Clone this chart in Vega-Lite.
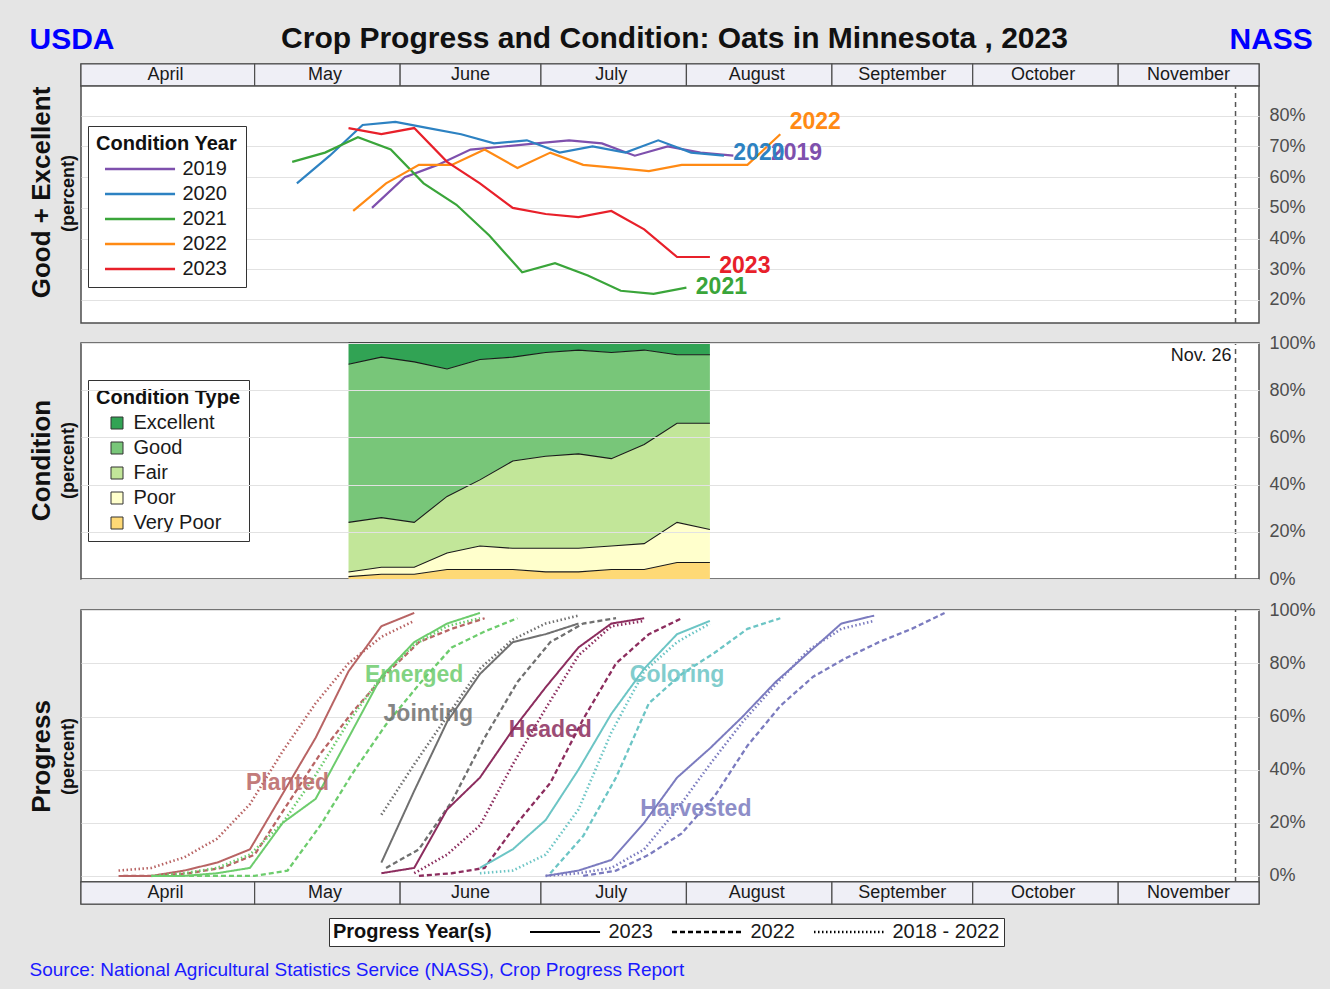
{
  "$schema": "https://vega.github.io/schema/vega-lite/v6.json",
  "background": "#e5e5e5",
  "padding": {"left": 27, "top": 22, "right": 16, "bottom": 43},
  "config": {
    "font": "Liberation Sans",
    "view": {"stroke": "#4d4d4d", "strokeWidth": 1.5, "fill": "white"},
    "axis": {"labelFontSize": 18, "labelColor": "#4d4d4d", "gridColor": "#e2e2e2", "gridWidth": 1.2, "titleLimit": 1400},
    "legend": {"labelFontSize": 20, "titleFontSize": 20, "titleFontWeight": "bold", "labelColor": "#1a1a1a", "titleColor": "#111111", "fillColor": "white", "strokeColor": "#333333", "padding": 8, "rowPadding": 5, "titlePadding": 5, "labelLimit": 400, "titleLimit": 400}
  },
  "datasets": {
    "months": [
      {"month": "April", "start": "2023-03-25", "end": "2023-05-01", "mid": "2023-04-12"},
      {"month": "May", "start": "2023-05-01", "end": "2023-06-01", "mid": "2023-05-16"},
      {"month": "June", "start": "2023-06-01", "end": "2023-07-01", "mid": "2023-06-16"},
      {"month": "July", "start": "2023-07-01", "end": "2023-08-01", "mid": "2023-07-16"},
      {"month": "August", "start": "2023-08-01", "end": "2023-09-01", "mid": "2023-08-16"},
      {"month": "September", "start": "2023-09-01", "end": "2023-10-01", "mid": "2023-09-16"},
      {"month": "October", "start": "2023-10-01", "end": "2023-11-01", "mid": "2023-10-16"},
      {"month": "November", "start": "2023-11-01", "end": "2023-12-01", "mid": "2023-11-16"}
    ],
    "marker": [{"date": "2023-11-26", "label": "Nov. 26"}],
    "condYears": [
      {"year": "2019", "date": "2023-05-26", "pct": 50}, {"year": "2019", "date": "2023-06-02", "pct": 60}, {"year": "2019", "date": "2023-06-09", "pct": 64}, {"year": "2019", "date": "2023-06-16", "pct": 69}, {"year": "2019", "date": "2023-06-23", "pct": 70}, {"year": "2019", "date": "2023-06-30", "pct": 71}, {"year": "2019", "date": "2023-07-07", "pct": 72}, {"year": "2019", "date": "2023-07-14", "pct": 71}, {"year": "2019", "date": "2023-07-21", "pct": 67}, {"year": "2019", "date": "2023-07-28", "pct": 70}, {"year": "2019", "date": "2023-08-04", "pct": 68}, {"year": "2019", "date": "2023-08-11", "pct": 67},
      {"year": "2020", "date": "2023-05-10", "pct": 58}, {"year": "2020", "date": "2023-05-17", "pct": 67}, {"year": "2020", "date": "2023-05-24", "pct": 77}, {"year": "2020", "date": "2023-05-31", "pct": 78}, {"year": "2020", "date": "2023-06-07", "pct": 76}, {"year": "2020", "date": "2023-06-14", "pct": 74}, {"year": "2020", "date": "2023-06-21", "pct": 71}, {"year": "2020", "date": "2023-06-28", "pct": 72}, {"year": "2020", "date": "2023-07-05", "pct": 68}, {"year": "2020", "date": "2023-07-12", "pct": 70}, {"year": "2020", "date": "2023-07-19", "pct": 68}, {"year": "2020", "date": "2023-07-26", "pct": 72}, {"year": "2020", "date": "2023-08-02", "pct": 68}, {"year": "2020", "date": "2023-08-09", "pct": 67},
      {"year": "2021", "date": "2023-05-09", "pct": 65}, {"year": "2021", "date": "2023-05-16", "pct": 68}, {"year": "2021", "date": "2023-05-23", "pct": 73}, {"year": "2021", "date": "2023-05-30", "pct": 69}, {"year": "2021", "date": "2023-06-06", "pct": 58}, {"year": "2021", "date": "2023-06-13", "pct": 51}, {"year": "2021", "date": "2023-06-20", "pct": 41}, {"year": "2021", "date": "2023-06-27", "pct": 29}, {"year": "2021", "date": "2023-07-04", "pct": 32}, {"year": "2021", "date": "2023-07-11", "pct": 28}, {"year": "2021", "date": "2023-07-18", "pct": 23}, {"year": "2021", "date": "2023-07-25", "pct": 22}, {"year": "2021", "date": "2023-08-01", "pct": 24},
      {"year": "2022", "date": "2023-05-22", "pct": 49}, {"year": "2022", "date": "2023-05-29", "pct": 58}, {"year": "2022", "date": "2023-06-05", "pct": 64}, {"year": "2022", "date": "2023-06-12", "pct": 64}, {"year": "2022", "date": "2023-06-19", "pct": 69}, {"year": "2022", "date": "2023-06-26", "pct": 63}, {"year": "2022", "date": "2023-07-03", "pct": 68}, {"year": "2022", "date": "2023-07-10", "pct": 64}, {"year": "2022", "date": "2023-07-17", "pct": 63}, {"year": "2022", "date": "2023-07-24", "pct": 62}, {"year": "2022", "date": "2023-07-31", "pct": 64}, {"year": "2022", "date": "2023-08-07", "pct": 64}, {"year": "2022", "date": "2023-08-14", "pct": 64}, {"year": "2022", "date": "2023-08-21", "pct": 74},
      {"year": "2023", "date": "2023-05-21", "pct": 76}, {"year": "2023", "date": "2023-05-28", "pct": 74}, {"year": "2023", "date": "2023-06-04", "pct": 76}, {"year": "2023", "date": "2023-06-11", "pct": 65}, {"year": "2023", "date": "2023-06-18", "pct": 58}, {"year": "2023", "date": "2023-06-25", "pct": 50}, {"year": "2023", "date": "2023-07-02", "pct": 48}, {"year": "2023", "date": "2023-07-09", "pct": 47}, {"year": "2023", "date": "2023-07-16", "pct": 49}, {"year": "2023", "date": "2023-07-23", "pct": 43}, {"year": "2023", "date": "2023-07-30", "pct": 34}, {"year": "2023", "date": "2023-08-06", "pct": 34}
    ],
    "condLabels": [
      {"year": "2019", "date": "2023-08-19", "pct": 68},
      {"year": "2020", "date": "2023-08-11", "pct": 68},
      {"year": "2021", "date": "2023-08-03", "pct": 24.3},
      {"year": "2022", "date": "2023-08-23", "pct": 78},
      {"year": "2023", "date": "2023-08-08", "pct": 31}
    ],
    "condType": [
      {"date": "2023-05-21", "cond": "Very Poor", "lo": 0, "hi": 1}, {"date": "2023-05-21", "cond": "Poor", "lo": 1, "hi": 3}, {"date": "2023-05-21", "cond": "Fair", "lo": 3, "hi": 24}, {"date": "2023-05-21", "cond": "Good", "lo": 24, "hi": 91}, {"date": "2023-05-21", "cond": "Excellent", "lo": 91, "hi": 100},
      {"date": "2023-05-28", "cond": "Very Poor", "lo": 0, "hi": 2}, {"date": "2023-05-28", "cond": "Poor", "lo": 2, "hi": 5}, {"date": "2023-05-28", "cond": "Fair", "lo": 5, "hi": 26}, {"date": "2023-05-28", "cond": "Good", "lo": 26, "hi": 94}, {"date": "2023-05-28", "cond": "Excellent", "lo": 94, "hi": 100},
      {"date": "2023-06-04", "cond": "Very Poor", "lo": 0, "hi": 2}, {"date": "2023-06-04", "cond": "Poor", "lo": 2, "hi": 5}, {"date": "2023-06-04", "cond": "Fair", "lo": 5, "hi": 24}, {"date": "2023-06-04", "cond": "Good", "lo": 24, "hi": 92}, {"date": "2023-06-04", "cond": "Excellent", "lo": 92, "hi": 100},
      {"date": "2023-06-11", "cond": "Very Poor", "lo": 0, "hi": 4}, {"date": "2023-06-11", "cond": "Poor", "lo": 4, "hi": 11}, {"date": "2023-06-11", "cond": "Fair", "lo": 11, "hi": 35}, {"date": "2023-06-11", "cond": "Good", "lo": 35, "hi": 89}, {"date": "2023-06-11", "cond": "Excellent", "lo": 89, "hi": 100},
      {"date": "2023-06-18", "cond": "Very Poor", "lo": 0, "hi": 4}, {"date": "2023-06-18", "cond": "Poor", "lo": 4, "hi": 14}, {"date": "2023-06-18", "cond": "Fair", "lo": 14, "hi": 42}, {"date": "2023-06-18", "cond": "Good", "lo": 42, "hi": 93}, {"date": "2023-06-18", "cond": "Excellent", "lo": 93, "hi": 100},
      {"date": "2023-06-25", "cond": "Very Poor", "lo": 0, "hi": 4}, {"date": "2023-06-25", "cond": "Poor", "lo": 4, "hi": 13}, {"date": "2023-06-25", "cond": "Fair", "lo": 13, "hi": 50}, {"date": "2023-06-25", "cond": "Good", "lo": 50, "hi": 94}, {"date": "2023-06-25", "cond": "Excellent", "lo": 94, "hi": 100},
      {"date": "2023-07-02", "cond": "Very Poor", "lo": 0, "hi": 3}, {"date": "2023-07-02", "cond": "Poor", "lo": 3, "hi": 13}, {"date": "2023-07-02", "cond": "Fair", "lo": 13, "hi": 52}, {"date": "2023-07-02", "cond": "Good", "lo": 52, "hi": 96}, {"date": "2023-07-02", "cond": "Excellent", "lo": 96, "hi": 100},
      {"date": "2023-07-09", "cond": "Very Poor", "lo": 0, "hi": 3}, {"date": "2023-07-09", "cond": "Poor", "lo": 3, "hi": 13}, {"date": "2023-07-09", "cond": "Fair", "lo": 13, "hi": 53}, {"date": "2023-07-09", "cond": "Good", "lo": 53, "hi": 97}, {"date": "2023-07-09", "cond": "Excellent", "lo": 97, "hi": 100},
      {"date": "2023-07-16", "cond": "Very Poor", "lo": 0, "hi": 4}, {"date": "2023-07-16", "cond": "Poor", "lo": 4, "hi": 14}, {"date": "2023-07-16", "cond": "Fair", "lo": 14, "hi": 51}, {"date": "2023-07-16", "cond": "Good", "lo": 51, "hi": 96}, {"date": "2023-07-16", "cond": "Excellent", "lo": 96, "hi": 100},
      {"date": "2023-07-23", "cond": "Very Poor", "lo": 0, "hi": 4}, {"date": "2023-07-23", "cond": "Poor", "lo": 4, "hi": 15}, {"date": "2023-07-23", "cond": "Fair", "lo": 15, "hi": 57}, {"date": "2023-07-23", "cond": "Good", "lo": 57, "hi": 97}, {"date": "2023-07-23", "cond": "Excellent", "lo": 97, "hi": 100},
      {"date": "2023-07-30", "cond": "Very Poor", "lo": 0, "hi": 7}, {"date": "2023-07-30", "cond": "Poor", "lo": 7, "hi": 24}, {"date": "2023-07-30", "cond": "Fair", "lo": 24, "hi": 66}, {"date": "2023-07-30", "cond": "Good", "lo": 66, "hi": 95}, {"date": "2023-07-30", "cond": "Excellent", "lo": 95, "hi": 100},
      {"date": "2023-08-06", "cond": "Very Poor", "lo": 0, "hi": 7}, {"date": "2023-08-06", "cond": "Poor", "lo": 7, "hi": 21}, {"date": "2023-08-06", "cond": "Fair", "lo": 21, "hi": 66}, {"date": "2023-08-06", "cond": "Good", "lo": 66, "hi": 95}, {"date": "2023-08-06", "cond": "Excellent", "lo": 95, "hi": 100}
    ],
    "progress": [
      {"stage": "Planted", "series": "2023", "date": "2023-04-02", "pct": 0}, {"stage": "Planted", "series": "2023", "date": "2023-04-09", "pct": 0}, {"stage": "Planted", "series": "2023", "date": "2023-04-16", "pct": 2}, {"stage": "Planted", "series": "2023", "date": "2023-04-23", "pct": 5}, {"stage": "Planted", "series": "2023", "date": "2023-04-30", "pct": 10}, {"stage": "Planted", "series": "2023", "date": "2023-05-07", "pct": 31}, {"stage": "Planted", "series": "2023", "date": "2023-05-14", "pct": 52}, {"stage": "Planted", "series": "2023", "date": "2023-05-21", "pct": 77}, {"stage": "Planted", "series": "2023", "date": "2023-05-28", "pct": 94}, {"stage": "Planted", "series": "2023", "date": "2023-06-04", "pct": 99},
      {"stage": "Planted", "series": "2022", "date": "2023-04-03", "pct": 0}, {"stage": "Planted", "series": "2022", "date": "2023-04-10", "pct": 0}, {"stage": "Planted", "series": "2022", "date": "2023-04-17", "pct": 1}, {"stage": "Planted", "series": "2022", "date": "2023-04-24", "pct": 3}, {"stage": "Planted", "series": "2022", "date": "2023-05-01", "pct": 8}, {"stage": "Planted", "series": "2022", "date": "2023-05-08", "pct": 27}, {"stage": "Planted", "series": "2022", "date": "2023-05-15", "pct": 46}, {"stage": "Planted", "series": "2022", "date": "2023-05-22", "pct": 62}, {"stage": "Planted", "series": "2022", "date": "2023-05-29", "pct": 76}, {"stage": "Planted", "series": "2022", "date": "2023-06-05", "pct": 88}, {"stage": "Planted", "series": "2022", "date": "2023-06-12", "pct": 93}, {"stage": "Planted", "series": "2022", "date": "2023-06-19", "pct": 97},
      {"stage": "Planted", "series": "2018 - 2022", "date": "2023-04-02", "pct": 2}, {"stage": "Planted", "series": "2018 - 2022", "date": "2023-04-09", "pct": 3}, {"stage": "Planted", "series": "2018 - 2022", "date": "2023-04-16", "pct": 7}, {"stage": "Planted", "series": "2018 - 2022", "date": "2023-04-23", "pct": 14}, {"stage": "Planted", "series": "2018 - 2022", "date": "2023-04-30", "pct": 27}, {"stage": "Planted", "series": "2018 - 2022", "date": "2023-05-07", "pct": 47}, {"stage": "Planted", "series": "2018 - 2022", "date": "2023-05-14", "pct": 65}, {"stage": "Planted", "series": "2018 - 2022", "date": "2023-05-21", "pct": 80}, {"stage": "Planted", "series": "2018 - 2022", "date": "2023-05-28", "pct": 90}, {"stage": "Planted", "series": "2018 - 2022", "date": "2023-06-04", "pct": 96},
      {"stage": "Emerged", "series": "2023", "date": "2023-04-09", "pct": 0}, {"stage": "Emerged", "series": "2023", "date": "2023-04-16", "pct": 0}, {"stage": "Emerged", "series": "2023", "date": "2023-04-23", "pct": 1}, {"stage": "Emerged", "series": "2023", "date": "2023-04-30", "pct": 3}, {"stage": "Emerged", "series": "2023", "date": "2023-05-07", "pct": 20}, {"stage": "Emerged", "series": "2023", "date": "2023-05-14", "pct": 29}, {"stage": "Emerged", "series": "2023", "date": "2023-05-21", "pct": 52}, {"stage": "Emerged", "series": "2023", "date": "2023-05-28", "pct": 75}, {"stage": "Emerged", "series": "2023", "date": "2023-06-04", "pct": 88}, {"stage": "Emerged", "series": "2023", "date": "2023-06-11", "pct": 95}, {"stage": "Emerged", "series": "2023", "date": "2023-06-18", "pct": 99},
      {"stage": "Emerged", "series": "2022", "date": "2023-04-17", "pct": 0}, {"stage": "Emerged", "series": "2022", "date": "2023-04-24", "pct": 0}, {"stage": "Emerged", "series": "2022", "date": "2023-05-01", "pct": 0}, {"stage": "Emerged", "series": "2022", "date": "2023-05-08", "pct": 2}, {"stage": "Emerged", "series": "2022", "date": "2023-05-15", "pct": 19}, {"stage": "Emerged", "series": "2022", "date": "2023-05-22", "pct": 39}, {"stage": "Emerged", "series": "2022", "date": "2023-05-29", "pct": 57}, {"stage": "Emerged", "series": "2022", "date": "2023-06-05", "pct": 72}, {"stage": "Emerged", "series": "2022", "date": "2023-06-12", "pct": 86}, {"stage": "Emerged", "series": "2022", "date": "2023-06-19", "pct": 92}, {"stage": "Emerged", "series": "2022", "date": "2023-06-26", "pct": 97},
      {"stage": "Emerged", "series": "2018 - 2022", "date": "2023-04-09", "pct": 0}, {"stage": "Emerged", "series": "2018 - 2022", "date": "2023-04-16", "pct": 1}, {"stage": "Emerged", "series": "2018 - 2022", "date": "2023-04-23", "pct": 3}, {"stage": "Emerged", "series": "2018 - 2022", "date": "2023-04-30", "pct": 8}, {"stage": "Emerged", "series": "2018 - 2022", "date": "2023-05-07", "pct": 20}, {"stage": "Emerged", "series": "2018 - 2022", "date": "2023-05-14", "pct": 38}, {"stage": "Emerged", "series": "2018 - 2022", "date": "2023-05-21", "pct": 58}, {"stage": "Emerged", "series": "2018 - 2022", "date": "2023-05-28", "pct": 75}, {"stage": "Emerged", "series": "2018 - 2022", "date": "2023-06-04", "pct": 87}, {"stage": "Emerged", "series": "2018 - 2022", "date": "2023-06-11", "pct": 94}, {"stage": "Emerged", "series": "2018 - 2022", "date": "2023-06-18", "pct": 97},
      {"stage": "Jointing", "series": "2023", "date": "2023-05-28", "pct": 5}, {"stage": "Jointing", "series": "2023", "date": "2023-06-04", "pct": 32}, {"stage": "Jointing", "series": "2023", "date": "2023-06-11", "pct": 58}, {"stage": "Jointing", "series": "2023", "date": "2023-06-18", "pct": 76}, {"stage": "Jointing", "series": "2023", "date": "2023-06-25", "pct": 88}, {"stage": "Jointing", "series": "2023", "date": "2023-07-02", "pct": 91}, {"stage": "Jointing", "series": "2023", "date": "2023-07-09", "pct": 95},
      {"stage": "Jointing", "series": "2022", "date": "2023-05-29", "pct": 3}, {"stage": "Jointing", "series": "2022", "date": "2023-06-05", "pct": 10}, {"stage": "Jointing", "series": "2022", "date": "2023-06-12", "pct": 28}, {"stage": "Jointing", "series": "2022", "date": "2023-06-19", "pct": 52}, {"stage": "Jointing", "series": "2022", "date": "2023-06-26", "pct": 73}, {"stage": "Jointing", "series": "2022", "date": "2023-07-03", "pct": 88}, {"stage": "Jointing", "series": "2022", "date": "2023-07-10", "pct": 95}, {"stage": "Jointing", "series": "2022", "date": "2023-07-17", "pct": 97},
      {"stage": "Jointing", "series": "2018 - 2022", "date": "2023-05-28", "pct": 23}, {"stage": "Jointing", "series": "2018 - 2022", "date": "2023-06-04", "pct": 42}, {"stage": "Jointing", "series": "2018 - 2022", "date": "2023-06-11", "pct": 60}, {"stage": "Jointing", "series": "2018 - 2022", "date": "2023-06-18", "pct": 78}, {"stage": "Jointing", "series": "2018 - 2022", "date": "2023-06-25", "pct": 89}, {"stage": "Jointing", "series": "2018 - 2022", "date": "2023-07-02", "pct": 95}, {"stage": "Jointing", "series": "2018 - 2022", "date": "2023-07-09", "pct": 98},
      {"stage": "Headed", "series": "2023", "date": "2023-05-28", "pct": 1}, {"stage": "Headed", "series": "2023", "date": "2023-06-04", "pct": 3}, {"stage": "Headed", "series": "2023", "date": "2023-06-11", "pct": 25}, {"stage": "Headed", "series": "2023", "date": "2023-06-18", "pct": 37}, {"stage": "Headed", "series": "2023", "date": "2023-06-25", "pct": 55}, {"stage": "Headed", "series": "2023", "date": "2023-07-02", "pct": 71}, {"stage": "Headed", "series": "2023", "date": "2023-07-09", "pct": 86}, {"stage": "Headed", "series": "2023", "date": "2023-07-16", "pct": 95}, {"stage": "Headed", "series": "2023", "date": "2023-07-23", "pct": 97},
      {"stage": "Headed", "series": "2022", "date": "2023-06-05", "pct": 0}, {"stage": "Headed", "series": "2022", "date": "2023-06-12", "pct": 1}, {"stage": "Headed", "series": "2022", "date": "2023-06-19", "pct": 3}, {"stage": "Headed", "series": "2022", "date": "2023-06-26", "pct": 20}, {"stage": "Headed", "series": "2022", "date": "2023-07-03", "pct": 35}, {"stage": "Headed", "series": "2022", "date": "2023-07-10", "pct": 59}, {"stage": "Headed", "series": "2022", "date": "2023-07-17", "pct": 80}, {"stage": "Headed", "series": "2022", "date": "2023-07-24", "pct": 91}, {"stage": "Headed", "series": "2022", "date": "2023-07-31", "pct": 97},
      {"stage": "Headed", "series": "2018 - 2022", "date": "2023-06-04", "pct": 1}, {"stage": "Headed", "series": "2018 - 2022", "date": "2023-06-11", "pct": 8}, {"stage": "Headed", "series": "2018 - 2022", "date": "2023-06-18", "pct": 19}, {"stage": "Headed", "series": "2018 - 2022", "date": "2023-06-25", "pct": 42}, {"stage": "Headed", "series": "2018 - 2022", "date": "2023-07-02", "pct": 63}, {"stage": "Headed", "series": "2018 - 2022", "date": "2023-07-09", "pct": 83}, {"stage": "Headed", "series": "2018 - 2022", "date": "2023-07-16", "pct": 94}, {"stage": "Headed", "series": "2018 - 2022", "date": "2023-07-23", "pct": 96},
      {"stage": "Coloring", "series": "2023", "date": "2023-06-18", "pct": 3}, {"stage": "Coloring", "series": "2023", "date": "2023-06-25", "pct": 10}, {"stage": "Coloring", "series": "2023", "date": "2023-07-02", "pct": 21}, {"stage": "Coloring", "series": "2023", "date": "2023-07-09", "pct": 40}, {"stage": "Coloring", "series": "2023", "date": "2023-07-16", "pct": 61}, {"stage": "Coloring", "series": "2023", "date": "2023-07-23", "pct": 78}, {"stage": "Coloring", "series": "2023", "date": "2023-07-30", "pct": 91}, {"stage": "Coloring", "series": "2023", "date": "2023-08-06", "pct": 96},
      {"stage": "Coloring", "series": "2022", "date": "2023-07-03", "pct": 1}, {"stage": "Coloring", "series": "2022", "date": "2023-07-10", "pct": 15}, {"stage": "Coloring", "series": "2022", "date": "2023-07-17", "pct": 37}, {"stage": "Coloring", "series": "2022", "date": "2023-07-24", "pct": 65}, {"stage": "Coloring", "series": "2022", "date": "2023-07-31", "pct": 76}, {"stage": "Coloring", "series": "2022", "date": "2023-08-07", "pct": 84}, {"stage": "Coloring", "series": "2022", "date": "2023-08-14", "pct": 93}, {"stage": "Coloring", "series": "2022", "date": "2023-08-21", "pct": 97},
      {"stage": "Coloring", "series": "2018 - 2022", "date": "2023-06-18", "pct": 1}, {"stage": "Coloring", "series": "2018 - 2022", "date": "2023-06-25", "pct": 2}, {"stage": "Coloring", "series": "2018 - 2022", "date": "2023-07-02", "pct": 8}, {"stage": "Coloring", "series": "2018 - 2022", "date": "2023-07-09", "pct": 25}, {"stage": "Coloring", "series": "2018 - 2022", "date": "2023-07-16", "pct": 54}, {"stage": "Coloring", "series": "2018 - 2022", "date": "2023-07-23", "pct": 77}, {"stage": "Coloring", "series": "2018 - 2022", "date": "2023-07-30", "pct": 88}, {"stage": "Coloring", "series": "2018 - 2022", "date": "2023-08-06", "pct": 95},
      {"stage": "Harvested", "series": "2023", "date": "2023-07-02", "pct": 0}, {"stage": "Harvested", "series": "2023", "date": "2023-07-09", "pct": 2}, {"stage": "Harvested", "series": "2023", "date": "2023-07-16", "pct": 6}, {"stage": "Harvested", "series": "2023", "date": "2023-07-23", "pct": 20}, {"stage": "Harvested", "series": "2023", "date": "2023-07-30", "pct": 37}, {"stage": "Harvested", "series": "2023", "date": "2023-08-06", "pct": 48}, {"stage": "Harvested", "series": "2023", "date": "2023-08-13", "pct": 60}, {"stage": "Harvested", "series": "2023", "date": "2023-08-20", "pct": 73}, {"stage": "Harvested", "series": "2023", "date": "2023-08-27", "pct": 84}, {"stage": "Harvested", "series": "2023", "date": "2023-09-03", "pct": 95}, {"stage": "Harvested", "series": "2023", "date": "2023-09-10", "pct": 98},
      {"stage": "Harvested", "series": "2022", "date": "2023-07-10", "pct": 0}, {"stage": "Harvested", "series": "2022", "date": "2023-07-17", "pct": 2}, {"stage": "Harvested", "series": "2022", "date": "2023-07-24", "pct": 8}, {"stage": "Harvested", "series": "2022", "date": "2023-07-31", "pct": 16}, {"stage": "Harvested", "series": "2022", "date": "2023-08-07", "pct": 30}, {"stage": "Harvested", "series": "2022", "date": "2023-08-14", "pct": 49}, {"stage": "Harvested", "series": "2022", "date": "2023-08-21", "pct": 64}, {"stage": "Harvested", "series": "2022", "date": "2023-08-28", "pct": 75}, {"stage": "Harvested", "series": "2022", "date": "2023-09-04", "pct": 82}, {"stage": "Harvested", "series": "2022", "date": "2023-09-11", "pct": 88}, {"stage": "Harvested", "series": "2022", "date": "2023-09-18", "pct": 93}, {"stage": "Harvested", "series": "2022", "date": "2023-09-25", "pct": 99},
      {"stage": "Harvested", "series": "2018 - 2022", "date": "2023-07-02", "pct": 0}, {"stage": "Harvested", "series": "2018 - 2022", "date": "2023-07-09", "pct": 1}, {"stage": "Harvested", "series": "2018 - 2022", "date": "2023-07-16", "pct": 3}, {"stage": "Harvested", "series": "2018 - 2022", "date": "2023-07-23", "pct": 10}, {"stage": "Harvested", "series": "2018 - 2022", "date": "2023-07-30", "pct": 25}, {"stage": "Harvested", "series": "2018 - 2022", "date": "2023-08-06", "pct": 42}, {"stage": "Harvested", "series": "2018 - 2022", "date": "2023-08-13", "pct": 58}, {"stage": "Harvested", "series": "2018 - 2022", "date": "2023-08-20", "pct": 72}, {"stage": "Harvested", "series": "2018 - 2022", "date": "2023-08-27", "pct": 85}, {"stage": "Harvested", "series": "2018 - 2022", "date": "2023-09-03", "pct": 93}, {"stage": "Harvested", "series": "2018 - 2022", "date": "2023-09-10", "pct": 96}
    ],
    "stageLabels": [
      {"stage": "Planted", "date": "2023-05-08", "pct": 35},
      {"stage": "Emerged", "date": "2023-06-04", "pct": 75.6},
      {"stage": "Jointing", "date": "2023-06-07", "pct": 61},
      {"stage": "Headed", "date": "2023-07-03", "pct": 55},
      {"stage": "Coloring", "date": "2023-07-30", "pct": 75.6},
      {"stage": "Harvested", "date": "2023-08-03", "pct": 25}
    ]
  },
  "spacing": 0,
  "bounds": "flush",
  "resolve": {
    "scale": {"color": "independent", "strokeDash": "independent", "strokeWidth": "independent", "x": "independent", "y": "independent"},
    "legend": {"color": "independent", "strokeDash": "independent", "strokeWidth": "independent"}
  },
  "vconcat": [
    {
      "width": 1178,
      "height": 22,
      "data": {"name": "months"},
      "layer": [
        {
          "mark": {"type": "rect", "fill": "#efeff6", "stroke": "#4d4d4d", "strokeWidth": 1.2},
          "encoding": {
            "x": {"field": "start", "type": "temporal", "scale": {"type": "utc", "domain": [{"year": 2023, "month": 3, "date": 25, "utc": true}, {"year": 2023, "month": 12, "date": 1, "utc": true}]}, "axis": {"orient": "top", "title": "USDA", "titleFontSize": 30, "titleFontWeight": "bold", "titleColor": "#0000ff", "titleX": -52, "titleY": -16, "titleAlign": "left", "titleBaseline": "alphabetic", "labels": false, "ticks": false, "domain": false, "grid": false}},
            "x2": {"field": "end"},
            "y": {"datum": 0, "type": "quantitative", "scale": {"domain": [0, 1]}, "axis": null},
            "y2": {"datum": 1}
          }
        },
        {
          "mark": {"type": "text", "fontSize": 18, "color": "#1a1a1a", "baseline": "middle"},
          "encoding": {
            "x": {"field": "mid", "type": "temporal", "scale": {"type": "utc", "domain": [{"year": 2023, "month": 3, "date": 25, "utc": true}, {"year": 2023, "month": 12, "date": 1, "utc": true}]}, "axis": {"orient": "top", "title": "Crop Progress and Condition: Oats in Minnesota , 2023", "titleFontSize": 30, "titleFontWeight": "bold", "titleColor": "#111111", "titleX": 593, "titleY": -17, "titleAlign": "center", "titleBaseline": "alphabetic", "labels": false, "ticks": false, "domain": false, "grid": false}},
            "y": {"datum": 0.5, "type": "quantitative", "scale": {"domain": [0, 1]}, "axis": {"orient": "right", "title": "NASS", "titleAngle": 0, "titleFontSize": 30, "titleFontWeight": "bold", "titleColor": "#0000ff", "titleX": -30, "titleY": -16, "titleAlign": "left", "titleBaseline": "alphabetic", "labels": false, "ticks": false, "domain": false, "grid": false}},
            "text": {"field": "month"}
          }
        }
      ],
      "resolve": {"axis": {"x": "independent", "y": "independent"}}
    },
    {
      "width": 1178,
      "height": 237,
      "layer": [
        {
          "data": {"name": "condYears"},
          "mark": {"type": "line", "strokeWidth": 2.2},
          "encoding": {
            "x": {"field": "date", "type": "temporal", "scale": {"type": "utc", "domain": [{"year": 2023, "month": 3, "date": 25, "utc": true}, {"year": 2023, "month": 12, "date": 1, "utc": true}]}, "axis": {"values": [{"year": 2023, "month": 4, "date": 1, "utc": true}, {"year": 2023, "month": 5, "date": 1, "utc": true}, {"year": 2023, "month": 6, "date": 1, "utc": true}, {"year": 2023, "month": 7, "date": 1, "utc": true}, {"year": 2023, "month": 8, "date": 1, "utc": true}, {"year": 2023, "month": 9, "date": 1, "utc": true}, {"year": 2023, "month": 10, "date": 1, "utc": true}, {"year": 2023, "month": 11, "date": 1, "utc": true}], "grid": true, "labels": false, "ticks": false, "domain": false, "title": null}},
            "y": {"field": "pct", "type": "quantitative", "scale": {"domain": [12.5, 89.7], "nice": false, "zero": false}, "axis": {"orient": "right", "values": [20, 30, 40, 50, 60, 70, 80], "labelExpr": "datum.value + '%'", "grid": true, "ticks": false, "domain": false, "labelPadding": 10, "title": null}},
            "color": {"field": "year", "type": "nominal", "scale": {"domain": ["2019", "2020", "2021", "2022", "2023"], "range": ["#7e50ad", "#2d82c2", "#3aa53a", "#ff8a14", "#e8202a"]}, "legend": {"title": "Condition Year", "orient": "none", "legendX": 7, "legendY": 40, "symbolType": "M-1,0H7.24", "symbolSize": 289, "symbolStrokeWidth": 2.5, "symbolOffset": 7.5, "labelOffset": 59, "encode": {"symbols": {"update": {"strokeWidth": {"value": 2.5}, "opacity": {"value": 1}}}}}}
          }
        },
        {
          "data": {"name": "condLabels"},
          "mark": {"type": "text", "fontSize": 23, "fontWeight": "bold", "align": "left", "baseline": "middle"},
          "encoding": {
            "x": {"field": "date", "type": "temporal", "scale": {"type": "utc", "domain": [{"year": 2023, "month": 3, "date": 25, "utc": true}, {"year": 2023, "month": 12, "date": 1, "utc": true}]}, "axis": null},
            "y": {"field": "pct", "type": "quantitative", "scale": {"domain": [12.5, 89.7], "nice": false, "zero": false}, "axis": {"orient": "left", "title": "Good + Excellent", "titleFontSize": 26, "titleFontWeight": "bold", "titleColor": "#111111", "titleX": -40, "titleY": 106, "titleAngle": 270, "titleAlign": "center", "titleBaseline": "middle", "labels": false, "ticks": false, "domain": false, "grid": false}},
            "text": {"field": "year"},
            "color": {"field": "year", "type": "nominal", "scale": {"domain": ["2019", "2020", "2021", "2022", "2023"], "range": ["#7e50ad", "#2d82c2", "#3aa53a", "#ff8a14", "#e8202a"]}, "legend": null}
          }
        },
        {
          "data": {"name": "marker"},
          "mark": {"type": "rule", "color": "#555555", "strokeWidth": 1.5, "strokeDash": [5, 4]},
          "encoding": {
            "x": {"field": "date", "type": "temporal", "scale": {"type": "utc", "domain": [{"year": 2023, "month": 3, "date": 25, "utc": true}, {"year": 2023, "month": 12, "date": 1, "utc": true}]}, "axis": null},
            "y": {"datum": 12.5, "type": "quantitative", "scale": {"domain": [12.5, 89.7], "nice": false, "zero": false}, "axis": {"orient": "left", "title": "(percent)", "titleFontSize": 18, "titleFontWeight": "bold", "titleColor": "#111111", "titleX": -13, "titleY": 107, "titleAngle": 270, "titleAlign": "center", "titleBaseline": "middle", "labels": false, "ticks": false, "domain": false, "grid": false}},
            "y2": {"datum": 89.7}
          }
        }
      ],
      "resolve": {"axis": {"y": "independent"}}
    },
    {
      "width": 1178,
      "height": 20,
      "data": {"values": []},
      "mark": "point",
      "view": {"stroke": null, "fill": null}
    },
    {
      "width": 1178,
      "height": 236,
      "layer": [
        {
          "data": {"name": "condType"},
          "mark": {"type": "area"},
          "encoding": {
            "x": {"field": "date", "type": "temporal", "scale": {"type": "utc", "domain": [{"year": 2023, "month": 3, "date": 25, "utc": true}, {"year": 2023, "month": 12, "date": 1, "utc": true}]}, "axis": {"values": [{"year": 2023, "month": 4, "date": 1, "utc": true}, {"year": 2023, "month": 5, "date": 1, "utc": true}, {"year": 2023, "month": 6, "date": 1, "utc": true}, {"year": 2023, "month": 7, "date": 1, "utc": true}, {"year": 2023, "month": 8, "date": 1, "utc": true}, {"year": 2023, "month": 9, "date": 1, "utc": true}, {"year": 2023, "month": 10, "date": 1, "utc": true}, {"year": 2023, "month": 11, "date": 1, "utc": true}], "grid": true, "labels": false, "ticks": false, "domain": false, "title": null, "zindex": 1}},
            "y": {"field": "hi", "type": "quantitative", "stack": null, "scale": {"domain": [0, 100], "nice": false}, "axis": {"orient": "right", "values": [0, 20, 40, 60, 80, 100], "labelExpr": "datum.value + '%'", "grid": true, "ticks": false, "domain": false, "labelPadding": 10, "title": null, "zindex": 1}},
            "y2": {"field": "lo"},
            "color": {"field": "cond", "type": "nominal", "scale": {"domain": ["Excellent", "Good", "Fair", "Poor", "Very Poor"], "range": ["#31a354", "#78c679", "#c2e699", "#ffffcc", "#fed976"]}, "legend": {"title": "Condition Type", "orient": "none", "legendX": 7, "legendY": 37, "symbolType": "square", "symbolSize": 144, "symbolStrokeColor": "#333333", "symbolStrokeWidth": 1, "symbolOffset": 11, "labelOffset": 6.5, "encode": {"symbols": {"update": {"stroke": {"value": "#333333"}, "strokeWidth": {"value": 1}}}}}}
          }
        },
        {
          "data": {"name": "condType"},
          "mark": {"type": "line", "color": "#1a1a1a", "strokeWidth": 1.1},
          "encoding": {
            "x": {"field": "date", "type": "temporal", "scale": {"type": "utc", "domain": [{"year": 2023, "month": 3, "date": 25, "utc": true}, {"year": 2023, "month": 12, "date": 1, "utc": true}]}, "axis": null},
            "y": {"field": "hi", "type": "quantitative", "scale": {"domain": [0, 100], "nice": false}, "axis": {"orient": "left", "title": "Condition", "titleFontSize": 26, "titleFontWeight": "bold", "titleColor": "#111111", "titleX": -40, "titleY": 117, "titleAngle": 270, "titleAlign": "center", "titleBaseline": "middle", "labels": false, "ticks": false, "domain": false, "grid": false}},
            "detail": {"field": "cond"}
          }
        },
        {
          "data": {"name": "marker"},
          "mark": {"type": "rule", "color": "#555555", "strokeWidth": 1.5, "strokeDash": [5, 4]},
          "encoding": {
            "x": {"field": "date", "type": "temporal", "scale": {"type": "utc", "domain": [{"year": 2023, "month": 3, "date": 25, "utc": true}, {"year": 2023, "month": 12, "date": 1, "utc": true}]}, "axis": null},
            "y": {"datum": 0, "type": "quantitative", "scale": {"domain": [0, 100], "nice": false}, "axis": {"orient": "left", "title": "(percent)", "titleFontSize": 18, "titleFontWeight": "bold", "titleColor": "#111111", "titleX": -13, "titleY": 117, "titleAngle": 270, "titleAlign": "center", "titleBaseline": "middle", "labels": false, "ticks": false, "domain": false, "grid": false}},
            "y2": {"datum": 100}
          }
        },
        {
          "data": {"name": "marker"},
          "mark": {"type": "text", "fontSize": 18, "color": "#1a1a1a", "align": "right", "baseline": "top", "dx": -4, "dy": 4},
          "encoding": {
            "x": {"field": "date", "type": "temporal", "scale": {"type": "utc", "domain": [{"year": 2023, "month": 3, "date": 25, "utc": true}, {"year": 2023, "month": 12, "date": 1, "utc": true}]}, "axis": null},
            "y": {"datum": 100, "type": "quantitative", "scale": {"domain": [0, 100], "nice": false}, "axis": null},
            "text": {"field": "label"}
          }
        }
      ],
      "resolve": {"axis": {"y": "independent"}}
    },
    {
      "width": 1178,
      "height": 31,
      "data": {"values": []},
      "mark": "point",
      "view": {"stroke": null, "fill": null}
    },
    {
      "width": 1178,
      "height": 272,
      "layer": [
        {
          "data": {"name": "progress"},
          "mark": {"type": "line"},
          "encoding": {
            "x": {"field": "date", "type": "temporal", "scale": {"type": "utc", "domain": [{"year": 2023, "month": 3, "date": 25, "utc": true}, {"year": 2023, "month": 12, "date": 1, "utc": true}]}, "axis": {"values": [{"year": 2023, "month": 4, "date": 1, "utc": true}, {"year": 2023, "month": 5, "date": 1, "utc": true}, {"year": 2023, "month": 6, "date": 1, "utc": true}, {"year": 2023, "month": 7, "date": 1, "utc": true}, {"year": 2023, "month": 8, "date": 1, "utc": true}, {"year": 2023, "month": 9, "date": 1, "utc": true}, {"year": 2023, "month": 10, "date": 1, "utc": true}, {"year": 2023, "month": 11, "date": 1, "utc": true}], "grid": true, "labels": false, "ticks": false, "domain": false, "title": null}},
            "y": {"field": "pct", "type": "quantitative", "scale": {"domain": [-2.3, 100.1], "nice": false, "zero": false}, "axis": {"orient": "right", "values": [0, 20, 40, 60, 80, 100], "labelExpr": "datum.value + '%'", "grid": true, "ticks": false, "domain": false, "labelPadding": 10, "title": null}},
            "color": {"field": "stage", "type": "nominal", "scale": {"domain": ["Planted", "Emerged", "Jointing", "Headed", "Coloring", "Harvested"], "range": ["#b86464", "#6dcc6d", "#707070", "#8c2d5e", "#6cc5c5", "#7b7bbf"]}, "legend": null},
            "strokeDash": {"field": "series", "type": "nominal", "scale": {"domain": ["2023", "2022", "2018 - 2022"], "range": [[1, 0], [5, 3], [1.5, 2.5]]}, "legend": {"title": "Progress Year(s)", "orient": "none", "legendX": 248, "legendY": 308, "direction": "horizontal", "titleOrient": "left", "symbolType": "M-1,0H7.24", "symbolSize": 289, "symbolStrokeColor": "#000000", "symbolStrokeWidth": 2.5, "symbolOffset": 7.5, "labelOffset": 60, "columnPadding": 10, "titlePadding": 29, "padding": 4, "encode": {"symbols": {"update": {"stroke": {"value": "#000000"}, "strokeWidth": {"value": 2.5}, "opacity": {"value": 1}}}}}},
            "strokeWidth": {"field": "series", "type": "nominal", "scale": {"domain": ["2023", "2022", "2018 - 2022"], "range": [2, 2.6, 1.8]}, "legend": null}
          }
        },
        {
          "data": {"name": "stageLabels"},
          "mark": {"type": "text", "fontSize": 23, "fontWeight": "bold", "align": "center", "baseline": "middle", "opacity": 0.85},
          "encoding": {
            "x": {"field": "date", "type": "temporal", "scale": {"type": "utc", "domain": [{"year": 2023, "month": 3, "date": 25, "utc": true}, {"year": 2023, "month": 12, "date": 1, "utc": true}]}, "axis": null},
            "y": {"field": "pct", "type": "quantitative", "scale": {"domain": [-2.3, 100.1], "nice": false, "zero": false}, "axis": {"orient": "left", "title": "Progress", "titleFontSize": 26, "titleFontWeight": "bold", "titleColor": "#111111", "titleX": -40, "titleY": 146, "titleAngle": 270, "titleAlign": "center", "titleBaseline": "middle", "labels": false, "ticks": false, "domain": false, "grid": false}},
            "text": {"field": "stage"},
            "color": {"field": "stage", "type": "nominal", "scale": {"domain": ["Planted", "Emerged", "Jointing", "Headed", "Coloring", "Harvested"], "range": ["#b86464", "#6dcc6d", "#707070", "#8c2d5e", "#6cc5c5", "#7b7bbf"]}, "legend": null}
          }
        },
        {
          "data": {"name": "marker"},
          "mark": {"type": "rule", "color": "#555555", "strokeWidth": 1.5, "strokeDash": [5, 4]},
          "encoding": {
            "x": {"field": "date", "type": "temporal", "scale": {"type": "utc", "domain": [{"year": 2023, "month": 3, "date": 25, "utc": true}, {"year": 2023, "month": 12, "date": 1, "utc": true}]}, "axis": null},
            "y": {"datum": -2.3, "type": "quantitative", "scale": {"domain": [-2.3, 100.1], "nice": false, "zero": false}, "axis": {"orient": "left", "title": "(percent)", "titleFontSize": 18, "titleFontWeight": "bold", "titleColor": "#111111", "titleX": -13, "titleY": 146, "titleAngle": 270, "titleAlign": "center", "titleBaseline": "middle", "labels": false, "ticks": false, "domain": false, "grid": false}},
            "y2": {"datum": 100.1}
          }
        }
      ],
      "resolve": {"axis": {"y": "independent"}}
    },
    {
      "width": 1178,
      "height": 22,
      "data": {"name": "months"},
      "layer": [
        {
          "mark": {"type": "rect", "fill": "#efeff6", "stroke": "#4d4d4d", "strokeWidth": 1.2},
          "encoding": {
            "x": {"field": "start", "type": "temporal", "scale": {"type": "utc", "domain": [{"year": 2023, "month": 3, "date": 25, "utc": true}, {"year": 2023, "month": 12, "date": 1, "utc": true}]}, "axis": {"orient": "bottom", "title": "Source: National Agricultural Statistics Service (NASS), Crop Progress Report", "titleFontSize": 19, "titleFontWeight": "normal", "titleColor": "#1a1aff", "titleX": -52, "titleY": 71, "titleAlign": "left", "titleBaseline": "alphabetic", "labels": false, "ticks": false, "domain": false, "grid": false}},
            "x2": {"field": "end"},
            "y": {"datum": 0, "type": "quantitative", "scale": {"domain": [0, 1]}, "axis": null},
            "y2": {"datum": 1}
          }
        },
        {
          "mark": {"type": "text", "fontSize": 18, "color": "#1a1a1a", "baseline": "middle"},
          "encoding": {
            "x": {"field": "mid", "type": "temporal", "scale": {"type": "utc", "domain": [{"year": 2023, "month": 3, "date": 25, "utc": true}, {"year": 2023, "month": 12, "date": 1, "utc": true}]}, "axis": null},
            "y": {"datum": 0.5, "type": "quantitative", "scale": {"domain": [0, 1]}, "axis": null},
            "text": {"field": "month"}
          }
        }
      ],
      "resolve": {"axis": {"x": "independent", "y": "independent"}}
    }
  ]
}
